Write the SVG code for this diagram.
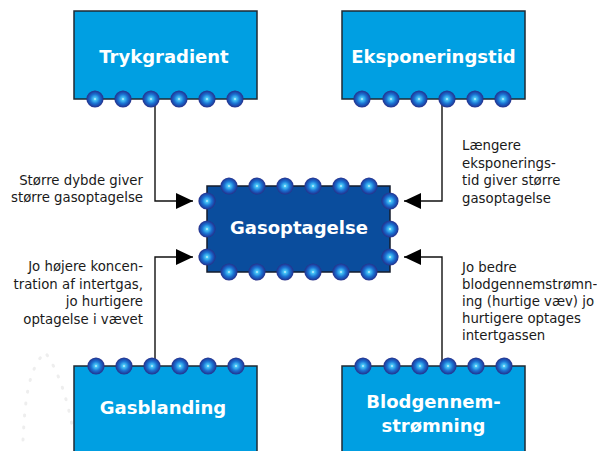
<svg xmlns="http://www.w3.org/2000/svg" width="597" height="451" viewBox="0 0 597 451">
<defs>
<radialGradient id="dot" cx="0.5" cy="0.5" r="0.5">
<stop offset="0" stop-color="#e6faff"/>
<stop offset="0.18" stop-color="#46c4f6"/>
<stop offset="0.55" stop-color="#1a72d2"/>
<stop offset="0.85" stop-color="#1d44a4"/>
<stop offset="1" stop-color="#2b2f86"/>
</radialGradient>
<g id="b"><circle r="8.6" fill="url(#dot)"/></g>
<marker id="arr" markerUnits="userSpaceOnUse" markerWidth="18" markerHeight="16" refX="17" refY="8" orient="auto">
<path d="M0,0 L17,8 L0,16 Z" fill="#000"/>
</marker>
</defs>
<style>
.box{fill:#009fe2;stroke:#1f2a33;stroke-width:1.5}
.cbox{fill:#0a4d9d;stroke:#141c2c;stroke-width:1.5}
.lbl{font-family:"DejaVu Sans",sans-serif;font-weight:bold;font-size:18px;fill:#fff;text-anchor:middle}
.txt{font-family:"DejaVu Sans",sans-serif;font-size:13.3px;fill:#1a1a1a}
.r{text-anchor:end}
.con{fill:none;stroke:#111;stroke-width:1.4}
</style>
<rect width="597" height="451" fill="#fff"/>
<path d="M23,440 C25,400 28,370 45,352 C58,370 66,395 72,425" fill="none" stroke="#eeeeee" stroke-width="3" stroke-dasharray="1 11" stroke-linecap="round"/>

<g id="connectors">
<path class="con" d="M155,99 V201 H193" marker-end="url(#arr)"/>
<path class="con" d="M155,366 V257 H193" marker-end="url(#arr)"/>
<path class="con" d="M442,99 V201 H404" marker-end="url(#arr)"/>
<path class="con" d="M442,366 V257 H404" marker-end="url(#arr)"/>
</g>

<g id="trykgradient">
<rect class="box" x="74" y="11" width="183" height="88"/>
<text class="lbl" x="164" y="63">Trykgradient</text>
<use href="#b" x="95" y="99"/><use href="#b" x="123" y="99"/><use href="#b" x="151" y="99"/><use href="#b" x="179" y="99"/><use href="#b" x="207" y="99"/><use href="#b" x="235" y="99"/>
</g>

<g id="eksponeringstid">
<rect class="box" x="342" y="11" width="183" height="88"/>
<text class="lbl" x="433.5" y="63">Eksponeringstid</text>
<use href="#b" x="362" y="99"/><use href="#b" x="391" y="99"/><use href="#b" x="419" y="99"/><use href="#b" x="447" y="99"/><use href="#b" x="475" y="99"/><use href="#b" x="503" y="99"/>
</g>

<g id="gasoptagelse">
<rect class="cbox" x="207" y="186" width="183" height="86"/>
<text class="lbl" x="299" y="234">Gasoptagelse</text>
<use href="#b" x="229" y="186"/><use href="#b" x="257" y="186"/><use href="#b" x="285" y="186"/><use href="#b" x="313" y="186"/><use href="#b" x="341" y="186"/><use href="#b" x="369" y="186"/>
<use href="#b" x="229" y="272"/><use href="#b" x="257" y="272"/><use href="#b" x="285" y="272"/><use href="#b" x="313" y="272"/><use href="#b" x="341" y="272"/><use href="#b" x="369" y="272"/>
<use href="#b" x="207" y="201"/><use href="#b" x="207" y="229"/><use href="#b" x="207" y="257"/>
<use href="#b" x="390" y="201"/><use href="#b" x="390" y="229"/><use href="#b" x="390" y="257"/>
</g>

<g id="gasblanding">
<rect class="box" x="74" y="366" width="183" height="100"/>
<text class="lbl" x="163" y="414">Gasblanding</text>
<use href="#b" x="96" y="366"/><use href="#b" x="124" y="366"/><use href="#b" x="152" y="366"/><use href="#b" x="180" y="366"/><use href="#b" x="208" y="366"/><use href="#b" x="236" y="366"/>
</g>

<g id="blodgennemstromning">
<rect class="box" x="342" y="366" width="183" height="100"/>
<text class="lbl" x="433.5" y="408">Blodgennem-</text>
<text class="lbl" x="433.5" y="432">strømning</text>
<use href="#b" x="363" y="366"/><use href="#b" x="392" y="366"/><use href="#b" x="420" y="366"/><use href="#b" x="448" y="366"/><use href="#b" x="476" y="366"/><use href="#b" x="504" y="366"/>
</g>

<g id="labels">
<text class="txt r" x="143" y="184.5">Større dybde giver</text>
<text class="txt r" x="143" y="201.5">større gasoptagelse</text>
<text class="txt r" x="143" y="271">Jo højere koncen-</text>
<text class="txt r" x="143" y="288.5">tration af intertgas,</text>
<text class="txt r" x="143" y="306">jo hurtigere</text>
<text class="txt r" x="143" y="323.5">optagelse i vævet</text>
<text class="txt" x="462" y="150">Længere</text>
<text class="txt" x="462" y="167.5">eksponerings-</text>
<text class="txt" x="462" y="185">tid giver større</text>
<text class="txt" x="462" y="202.5">gasoptagelse</text>
<text class="txt" x="462" y="272">Jo bedre</text>
<text class="txt" x="462" y="289">blodgennemstrømn-</text>
<text class="txt" x="462" y="306">ing (hurtige væv) jo</text>
<text class="txt" x="462" y="323">hurtigere optages</text>
<text class="txt" x="462" y="340">intertgassen</text>
</g>
</svg>
